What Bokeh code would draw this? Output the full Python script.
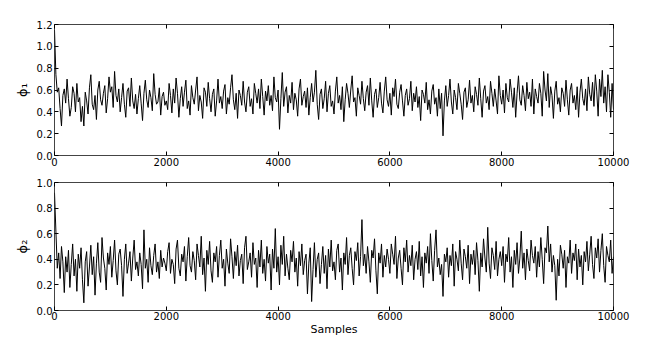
import numpy as np
from bokeh.plotting import figure
from bokeh.layouts import column
from bokeh.models import LinearAxis, FixedTicker, NumeralTickFormatter, Range1d
from bokeh.embed import file_html
from bokeh.resources import INLINE

x_ticks = [0, 2000, 4000, 6000, 8000, 10000]
phi1_ticks = [0.0, 0.2, 0.4, 0.6, 0.8, 1.0, 1.2]
phi2_ticks = [0.0, 0.2, 0.4, 0.6, 0.8, 1.0]

# Trace values read every 25 samples (0 ... 10000)
phi1 = [
    1.15, 0.74, 0.58, 0.62, 0.43, 0.27, 0.55, 0.61, 0.48, 0.70, 0.52, 0.36, 0.44, 0.63, 0.57, 0.40, 0.66, 0.49, 0.53, 0.31,
    0.45, 0.27, 0.58, 0.50, 0.38, 0.62, 0.74, 0.47, 0.42, 0.55, 0.33, 0.60, 0.68, 0.51, 0.46, 0.57, 0.64, 0.39, 0.52, 0.72,
    0.58, 0.63, 0.44, 0.77, 0.55, 0.49, 0.61, 0.40, 0.53, 0.66, 0.47, 0.35, 0.59, 0.62, 0.45, 0.71, 0.50, 0.43, 0.56, 0.38,
    0.52, 0.64, 0.48, 0.32, 0.57, 0.69, 0.51, 0.44, 0.60, 0.53, 0.41, 0.75, 0.56, 0.47, 0.49, 0.62, 0.37, 0.54, 0.58, 0.46,
    0.50, 0.42, 0.66, 0.55, 0.39, 0.61, 0.48, 0.71, 0.57, 0.35, 0.52, 0.63, 0.45, 0.58, 0.69, 0.43, 0.50, 0.37, 0.64, 0.53,
    0.47, 0.60, 0.72, 0.41, 0.55, 0.49, 0.34, 0.62, 0.58, 0.45, 0.67, 0.52, 0.40, 0.56, 0.61, 0.36, 0.50, 0.70, 0.48, 0.54,
    0.43, 0.59, 0.65, 0.38, 0.53, 0.47, 0.62, 0.74, 0.51, 0.42, 0.57, 0.34, 0.60, 0.55, 0.46, 0.68, 0.49, 0.40, 0.58, 0.63,
    0.45, 0.52, 0.38, 0.66, 0.57, 0.48, 0.61, 0.43, 0.70, 0.54, 0.37, 0.59, 0.50, 0.64, 0.46, 0.55, 0.41, 0.72, 0.53, 0.49,
    0.60, 0.24, 0.52, 0.76, 0.45, 0.58, 0.63, 0.39, 0.55, 0.48, 0.67, 0.42, 0.57, 0.51, 0.36, 0.61, 0.70, 0.46, 0.54, 0.59,
    0.44, 0.62, 0.37, 0.53, 0.66, 0.49, 0.58, 0.78, 0.47, 0.33, 0.56, 0.61, 0.43, 0.52, 0.68, 0.40, 0.57, 0.64, 0.45, 0.50,
    0.38, 0.59, 0.72, 0.48, 0.55, 0.42, 0.63, 0.31, 0.51, 0.66, 0.57, 0.44, 0.60, 0.73, 0.49, 0.53, 0.36, 0.62, 0.55, 0.47,
    0.68, 0.52, 0.41, 0.58, 0.64, 0.46, 0.71, 0.50, 0.35, 0.56, 0.61, 0.44, 0.53, 0.67, 0.48, 0.39, 0.59, 0.72, 0.51, 0.45,
    0.57, 0.37, 0.62, 0.54, 0.70, 0.47, 0.43, 0.58, 0.65, 0.50, 0.36, 0.55, 0.61, 0.46, 0.52, 0.68, 0.41, 0.57, 0.49, 0.63,
    0.44, 0.54, 0.32, 0.60, 0.56, 0.48, 0.67, 0.42, 0.51, 0.38, 0.59, 0.65, 0.47, 0.53, 0.36, 0.61, 0.43, 0.57, 0.18, 0.50,
    0.64, 0.45, 0.55, 0.70, 0.49, 0.38, 0.60, 0.53, 0.42, 0.66, 0.57, 0.47, 0.33, 0.58, 0.62, 0.44, 0.51, 0.69, 0.48, 0.55,
    0.40, 0.63, 0.56, 0.46, 0.71, 0.52, 0.35, 0.59, 0.64, 0.48, 0.54, 0.42, 0.68, 0.57, 0.45, 0.61, 0.50, 0.38, 0.73, 0.55,
    0.47, 0.60, 0.39, 0.66, 0.53, 0.49, 0.70, 0.58, 0.44, 0.62, 0.35, 0.57, 0.73, 0.51, 0.46, 0.64, 0.55, 0.41, 0.67, 0.52,
    0.58, 0.45, 0.70, 0.38, 0.61, 0.54, 0.48, 0.66, 0.57, 0.36, 0.77, 0.60, 0.50, 0.75, 0.44, 0.63, 0.55, 0.34, 0.59, 0.68,
    0.47, 0.53, 0.40, 0.62, 0.57, 0.45, 0.69, 0.51, 0.37, 0.60, 0.66, 0.48, 0.55, 0.42, 0.63, 0.35, 0.58, 0.70, 0.52, 0.46,
    0.61, 0.41, 0.72, 0.56, 0.50, 0.67, 0.45, 0.74, 0.59, 0.36, 0.70, 0.54, 0.78, 0.48, 0.63, 0.40, 0.74, 0.58, 0.35, 0.66,
    0.42,
]

phi2 = [
    0.92, 0.62, 0.33, 0.45, 0.25, 0.50, 0.38, 0.14, 0.42, 0.30, 0.47, 0.18, 0.36, 0.52, 0.27, 0.40, 0.15, 0.44, 0.33, 0.49,
    0.24, 0.06, 0.38, 0.46, 0.19, 0.34, 0.51, 0.28, 0.42, 0.12, 0.37, 0.53, 0.30, 0.22, 0.57, 0.41, 0.33, 0.16, 0.45, 0.36,
    0.50, 0.26, 0.39, 0.55, 0.31, 0.20, 0.44, 0.48, 0.35, 0.11, 0.40, 0.52, 0.29, 0.37, 0.46, 0.23, 0.41, 0.55, 0.32, 0.38,
    0.27, 0.45, 0.36, 0.17, 0.63, 0.33, 0.40, 0.22, 0.49, 0.35, 0.28, 0.43, 0.52, 0.30, 0.38, 0.25, 0.47, 0.34, 0.41, 0.37,
    0.31, 0.46, 0.53, 0.29, 0.40, 0.36, 0.21, 0.48, 0.55, 0.33, 0.27, 0.44, 0.38, 0.50, 0.23, 0.42, 0.57, 0.35, 0.30, 0.46,
    0.39, 0.24, 0.52, 0.43, 0.34, 0.58, 0.28, 0.41, 0.15, 0.47, 0.36, 0.54, 0.31, 0.22, 0.45, 0.38, 0.50, 0.26, 0.43, 0.55,
    0.33, 0.40, 0.19, 0.48, 0.37, 0.29, 0.56, 0.42, 0.25, 0.46, 0.35, 0.51, 0.27, 0.39, 0.44, 0.21, 0.49, 0.58, 0.32, 0.38,
    0.45, 0.26, 0.53, 0.36, 0.41, 0.18, 0.47, 0.34, 0.55, 0.29, 0.40, 0.23, 0.50, 0.37, 0.44, 0.16, 0.48, 0.33, 0.64, 0.30,
    0.42, 0.20, 0.51, 0.36, 0.58, 0.27, 0.44, 0.33, 0.24, 0.47, 0.38, 0.54, 0.30, 0.41, 0.19, 0.46, 0.35, 0.52, 0.28, 0.39,
    0.44, 0.13, 0.37, 0.49, 0.07, 0.32, 0.53, 0.26, 0.40, 0.45, 0.21, 0.36, 0.50, 0.29, 0.43, 0.17, 0.48, 0.34, 0.55, 0.31,
    0.38, 0.24, 0.47, 0.52, 0.30, 0.41, 0.16, 0.45, 0.36, 0.57, 0.28, 0.43, 0.49, 0.33, 0.20, 0.46, 0.39, 0.53, 0.27, 0.42,
    0.71, 0.35, 0.44, 0.29, 0.50, 0.38, 0.22, 0.47, 0.41, 0.56, 0.31, 0.13, 0.45, 0.37, 0.52, 0.26, 0.43, 0.34, 0.48, 0.40,
    0.29, 0.52, 0.44, 0.36, 0.58, 0.25, 0.41, 0.47, 0.33, 0.20, 0.49, 0.38, 0.55, 0.30, 0.43, 0.35, 0.51, 0.24, 0.40, 0.46,
    0.32, 0.54, 0.27, 0.42, 0.18, 0.45, 0.37, 0.50, 0.29, 0.60, 0.39, 0.23, 0.47, 0.63, 0.34, 0.41, 0.28, 0.36, 0.11, 0.44,
    0.38, 0.49, 0.26, 0.43, 0.35, 0.52, 0.19, 0.46, 0.40, 0.31, 0.55, 0.37, 0.24, 0.48, 0.42, 0.33, 0.51, 0.21, 0.44, 0.36,
    0.47, 0.28, 0.53, 0.39, 0.15, 0.45, 0.34, 0.56, 0.41, 0.30, 0.65, 0.37, 0.25, 0.49, 0.43, 0.32, 0.54, 0.27, 0.40, 0.46,
    0.35, 0.50, 0.22, 0.44, 0.38, 0.57, 0.30, 0.42, 0.18, 0.47, 0.36, 0.53, 0.29, 0.41, 0.62, 0.33, 0.45, 0.24, 0.48, 0.39,
    0.31, 0.55, 0.43, 0.37, 0.50, 0.26, 0.46, 0.34, 0.57, 0.40, 0.21, 0.49, 0.45, 0.66, 0.38, 0.52, 0.30, 0.43, 0.35, 0.08,
    0.40, 0.27, 0.51, 0.44, 0.33, 0.47, 0.18, 0.42, 0.37, 0.55, 0.29, 0.45, 0.39, 0.52, 0.24, 0.48, 0.34, 0.43, 0.20, 0.46,
    0.38, 0.54, 0.31, 0.44, 0.58, 0.36, 0.25, 0.49, 0.41, 0.56, 0.30, 0.47, 0.60, 0.35, 0.22, 0.50, 0.43, 0.38, 0.55, 0.29,
    0.42,
]

samples1 = np.linspace(0, 10000, len(phi1))
samples2 = np.linspace(0, 10000, len(phi2))

FONT = "DejaVu Sans"
TICK_SIZE = "10px"


def style_axis(ax, ticks, fmt, show_labels=True):
    ax.ticker = FixedTicker(ticks=ticks)
    ax.formatter = NumeralTickFormatter(format=fmt)
    ax.axis_line_color = None
    ax.major_tick_in = 4
    ax.major_tick_out = 0
    ax.major_tick_line_color = "black"
    ax.minor_tick_line_color = None
    ax.major_label_text_font = FONT
    ax.major_label_text_font_size = TICK_SIZE
    ax.major_label_standoff = 2
    if show_labels:
        ax.major_label_text_color = "black"
    else:
        ax.major_label_text_color = None
        ax.major_label_standoff = 0


def make_fig(xs, y, ymax, yticks, ylabel, height, top, bottom, xlabel=None):
    p = figure(width=645, height=height,
               x_range=Range1d(0, 10000), y_range=Range1d(0, ymax),
               output_backend="svg", toolbar_location=None,
               min_border_left=54, min_border_right=32,
               min_border_top=top, min_border_bottom=bottom)
    p.grid.visible = False
    p.outline_line_color = "#444444"
    p.outline_line_width = 1
    p.line(xs, y, line_color="black", line_width=1.0)

    xa = p.xaxis[0]
    style_axis(xa, x_ticks, "0")
    ya = p.yaxis[0]
    style_axis(ya, yticks, "0.0")
    ya.axis_label = ylabel
    ya.axis_label_text_font = FONT
    ya.axis_label_text_font_size = "13px"
    ya.axis_label_text_font_style = "normal"
    ya.axis_label_text_color = "black"
    ya.axis_label_standoff = 4
    if xlabel:
        xa.axis_label = xlabel
        xa.axis_label_text_font = FONT
        xa.axis_label_text_font_size = "11px"
        xa.axis_label_text_font_style = "normal"
        xa.axis_label_text_color = "black"
        xa.axis_label_standoff = 0
        xa.major_label_standoff = 1

    ra = LinearAxis()
    style_axis(ra, yticks, "0.0", show_labels=False)
    p.add_layout(ra, "right")
    ta = LinearAxis()
    style_axis(ta, x_ticks, "0", show_labels=False)
    p.add_layout(ta, "above")
    return p


p1 = make_fig(samples1, phi1, 1.2, phi1_ticks, "ϕ₁", 168, 24, 13)
p2 = make_fig(samples2, phi2, 1.0, phi2_ticks, "ϕ₂", 170, 14, 25, xlabel="Samples")

layout = column(p1, p2, spacing=0)
open("out.html", "w").write(file_html(layout, INLINE))
